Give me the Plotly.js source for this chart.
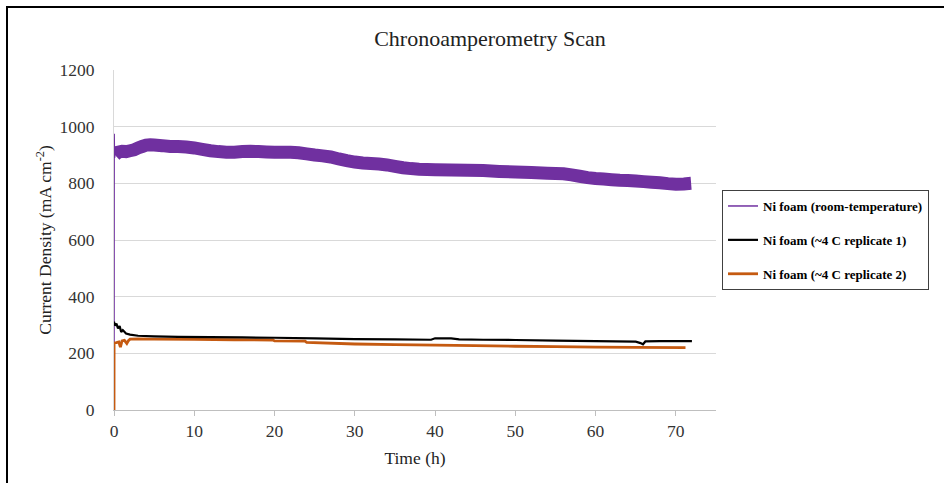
<!DOCTYPE html>
<html>
<head>
<meta charset="utf-8">
<script src="https://cdn.plot.ly/plotly-3.0.1.min.js"></script>
<style>html,body{margin:0;padding:0;background:#fff;}#chart{width:944px;height:483px;}</style>
</head>
<body>
<div id="chart"></div>
<script>
// Purple: Ni foam (room-temperature)
const roomSpikeT = [0, 0.02, 0.06, 0.12];
const roomSpikeV = [0, 975, 890, 900];
const roomT = [0.12, 0.5, 1, 1.5, 2, 2.5, 3, 3.5, 4, 4.5, 5, 6, 7, 8, 9, 10, 11, 12, 13, 14, 15, 16, 17, 18, 19, 20, 21, 22, 23, 24, 25, 26, 27, 28, 29, 30, 31, 32, 33, 34, 35, 36, 37, 38, 39, 40, 42, 44, 46, 48, 50, 52, 54, 55, 56, 57, 58, 59, 60, 61, 62, 63, 64, 65, 66, 67, 68, 69, 70, 71, 71.9];
const roomV = [900, 910, 913, 912, 915, 918, 925, 930, 935, 936, 935, 933, 930, 930, 928, 925, 920, 915, 912, 910, 910, 912, 913, 912, 911, 910, 910, 910, 908, 904, 900, 897, 893, 886, 880, 875, 872, 870, 868, 865, 860, 855, 852, 850, 849, 848, 847, 846, 845, 842, 840, 838, 836, 835, 834, 830, 825, 820, 817, 815, 813, 811, 810, 808, 806, 804, 802, 799, 797, 798, 800];

// Black: Ni foam (~4 C replicate 1)
const rep1T = [0, 0.1, 0.3, 0.5, 0.7, 0.9, 1.1, 1.5, 2, 3, 5, 8, 12, 16, 20, 25, 30, 35, 39.5, 40, 42, 43, 46, 50, 55, 60, 65, 65.6, 65.9, 66.2, 68, 72];
const rep1V = [312, 298, 305, 288, 296, 275, 282, 270, 266, 262, 260, 258, 257, 256, 255, 253, 250, 249, 248, 253, 253, 249, 248, 247, 245, 243, 241, 236, 232, 242, 243, 243];

// Orange: Ni foam (~4 C replicate 2)
const rep2T = [0, 0.01, 0.3, 0.6, 0.8, 1.0, 1.3, 1.6, 1.8, 2.0, 3, 5, 10, 15, 19.8, 20, 23.8, 24, 30, 35, 40, 45, 50, 55, 60, 65, 71.2];
const rep2V = [0, 237, 238, 240, 222, 244, 246, 235, 245, 250, 251, 250, 249, 248, 247, 244, 243, 239, 233, 231, 229, 227, 225, 224, 222, 221, 220];

const seriesNames = ["Ni foam (room-temperature)", "Ni foam (~4 C replicate 1)", "Ni foam (~4 C replicate 2)"];
const xTicks = [0, 10, 20, 30, 40, 50, 60, 70];
const yTicks = [0, 200, 400, 600, 800, 1000, 1200];

const purple = "#7030A0", black = "#000000", orange = "#C55A11";
const serif = "Liberation Serif, Times New Roman, serif";

const traces = [
  {x: roomT, y: roomV, mode: "lines", line: {color: purple, width: 13, simplify: false}, showlegend: false, legendgroup: "a", hoverinfo: "skip"},
  {x: roomSpikeT, y: roomSpikeV, mode: "lines", line: {color: purple, width: 1.5, simplify: false}, name: seriesNames[0], legendgroup: "a", legendrank: 1},
  {x: rep2T, y: rep2V, mode: "lines", line: {color: orange, width: 2.8, simplify: false}, name: seriesNames[2], legendgroup: "c", legendrank: 3},
  {x: rep1T, y: rep1V, mode: "lines", line: {color: black, width: 2.2, simplify: false}, name: seriesNames[1], legendgroup: "b", legendrank: 2}
];

const layout = {
  width: 944, height: 483,
  margin: {l: 114, r: 228, t: 70, b: 73},
  paper_bgcolor: "#fff", plot_bgcolor: "#fff",
  font: {family: serif, color: "#333", size: 17},
  title: {text: "Chronoamperometry Scan", x: 0.519, xanchor: "center", y: 0.921, yanchor: "middle", xref: "container", yref: "container", font: {family: serif, size: 22, color: "#222"}},
  xaxis: {
    range: [0, 75], tickvals: xTicks, ticktext: xTicks.map(String),
    showgrid: false, zeroline: false,
    showline: true, linecolor: "#bfbfbf", linewidth: 1,
    ticks: "outside", ticklen: 5, tickcolor: "#bfbfbf",
    tickfont: {family: serif, size: 17.5, color: "#333"},
    title: {text: "Time (h)", font: {family: serif, size: 17.5, color: "#222"}, standoff: 11},
    automargin: false
  },
  yaxis: {
    range: [0, 1200], tickvals: yTicks, ticktext: yTicks.map(String),
    showgrid: true, gridcolor: "#d9d9d9", gridwidth: 1, zeroline: false,
    showline: true, linecolor: "#d9d9d9", linewidth: 1,
    ticks: "", ticklabelstandoff: 15,
    tickfont: {family: serif, size: 17.5, color: "#333"},
    title: {text: "Current Density (mA cm<sup>-2</sup>)", font: {family: serif, size: 17.5, color: "#222"}, standoff: 3},
    automargin: false
  },
  legend: {
    x: 1.01, xanchor: "left", y: 0.647, yanchor: "top",
    bordercolor: "#404040", borderwidth: 1, bgcolor: "#fff",
    font: {family: serif, size: 13, color: "#000", weight: "bold"},
    traceorder: "grouped", tracegroupgap: 14, itemwidth: 30
  },
  shapes: [
    {type: "rect", xref: "paper", yref: "paper", x0: (7 - 114) / 602, x1: 1.5, y0: -0.5, y1: (410 - 7) / 340, line: {color: "#000", width: 2}, fillcolor: "rgba(0,0,0,0)", layer: "below"}
  ]
};

Plotly.newPlot("chart", traces, layout, {displayModeBar: false, staticPlot: true});
</script>
</body>
</html>
